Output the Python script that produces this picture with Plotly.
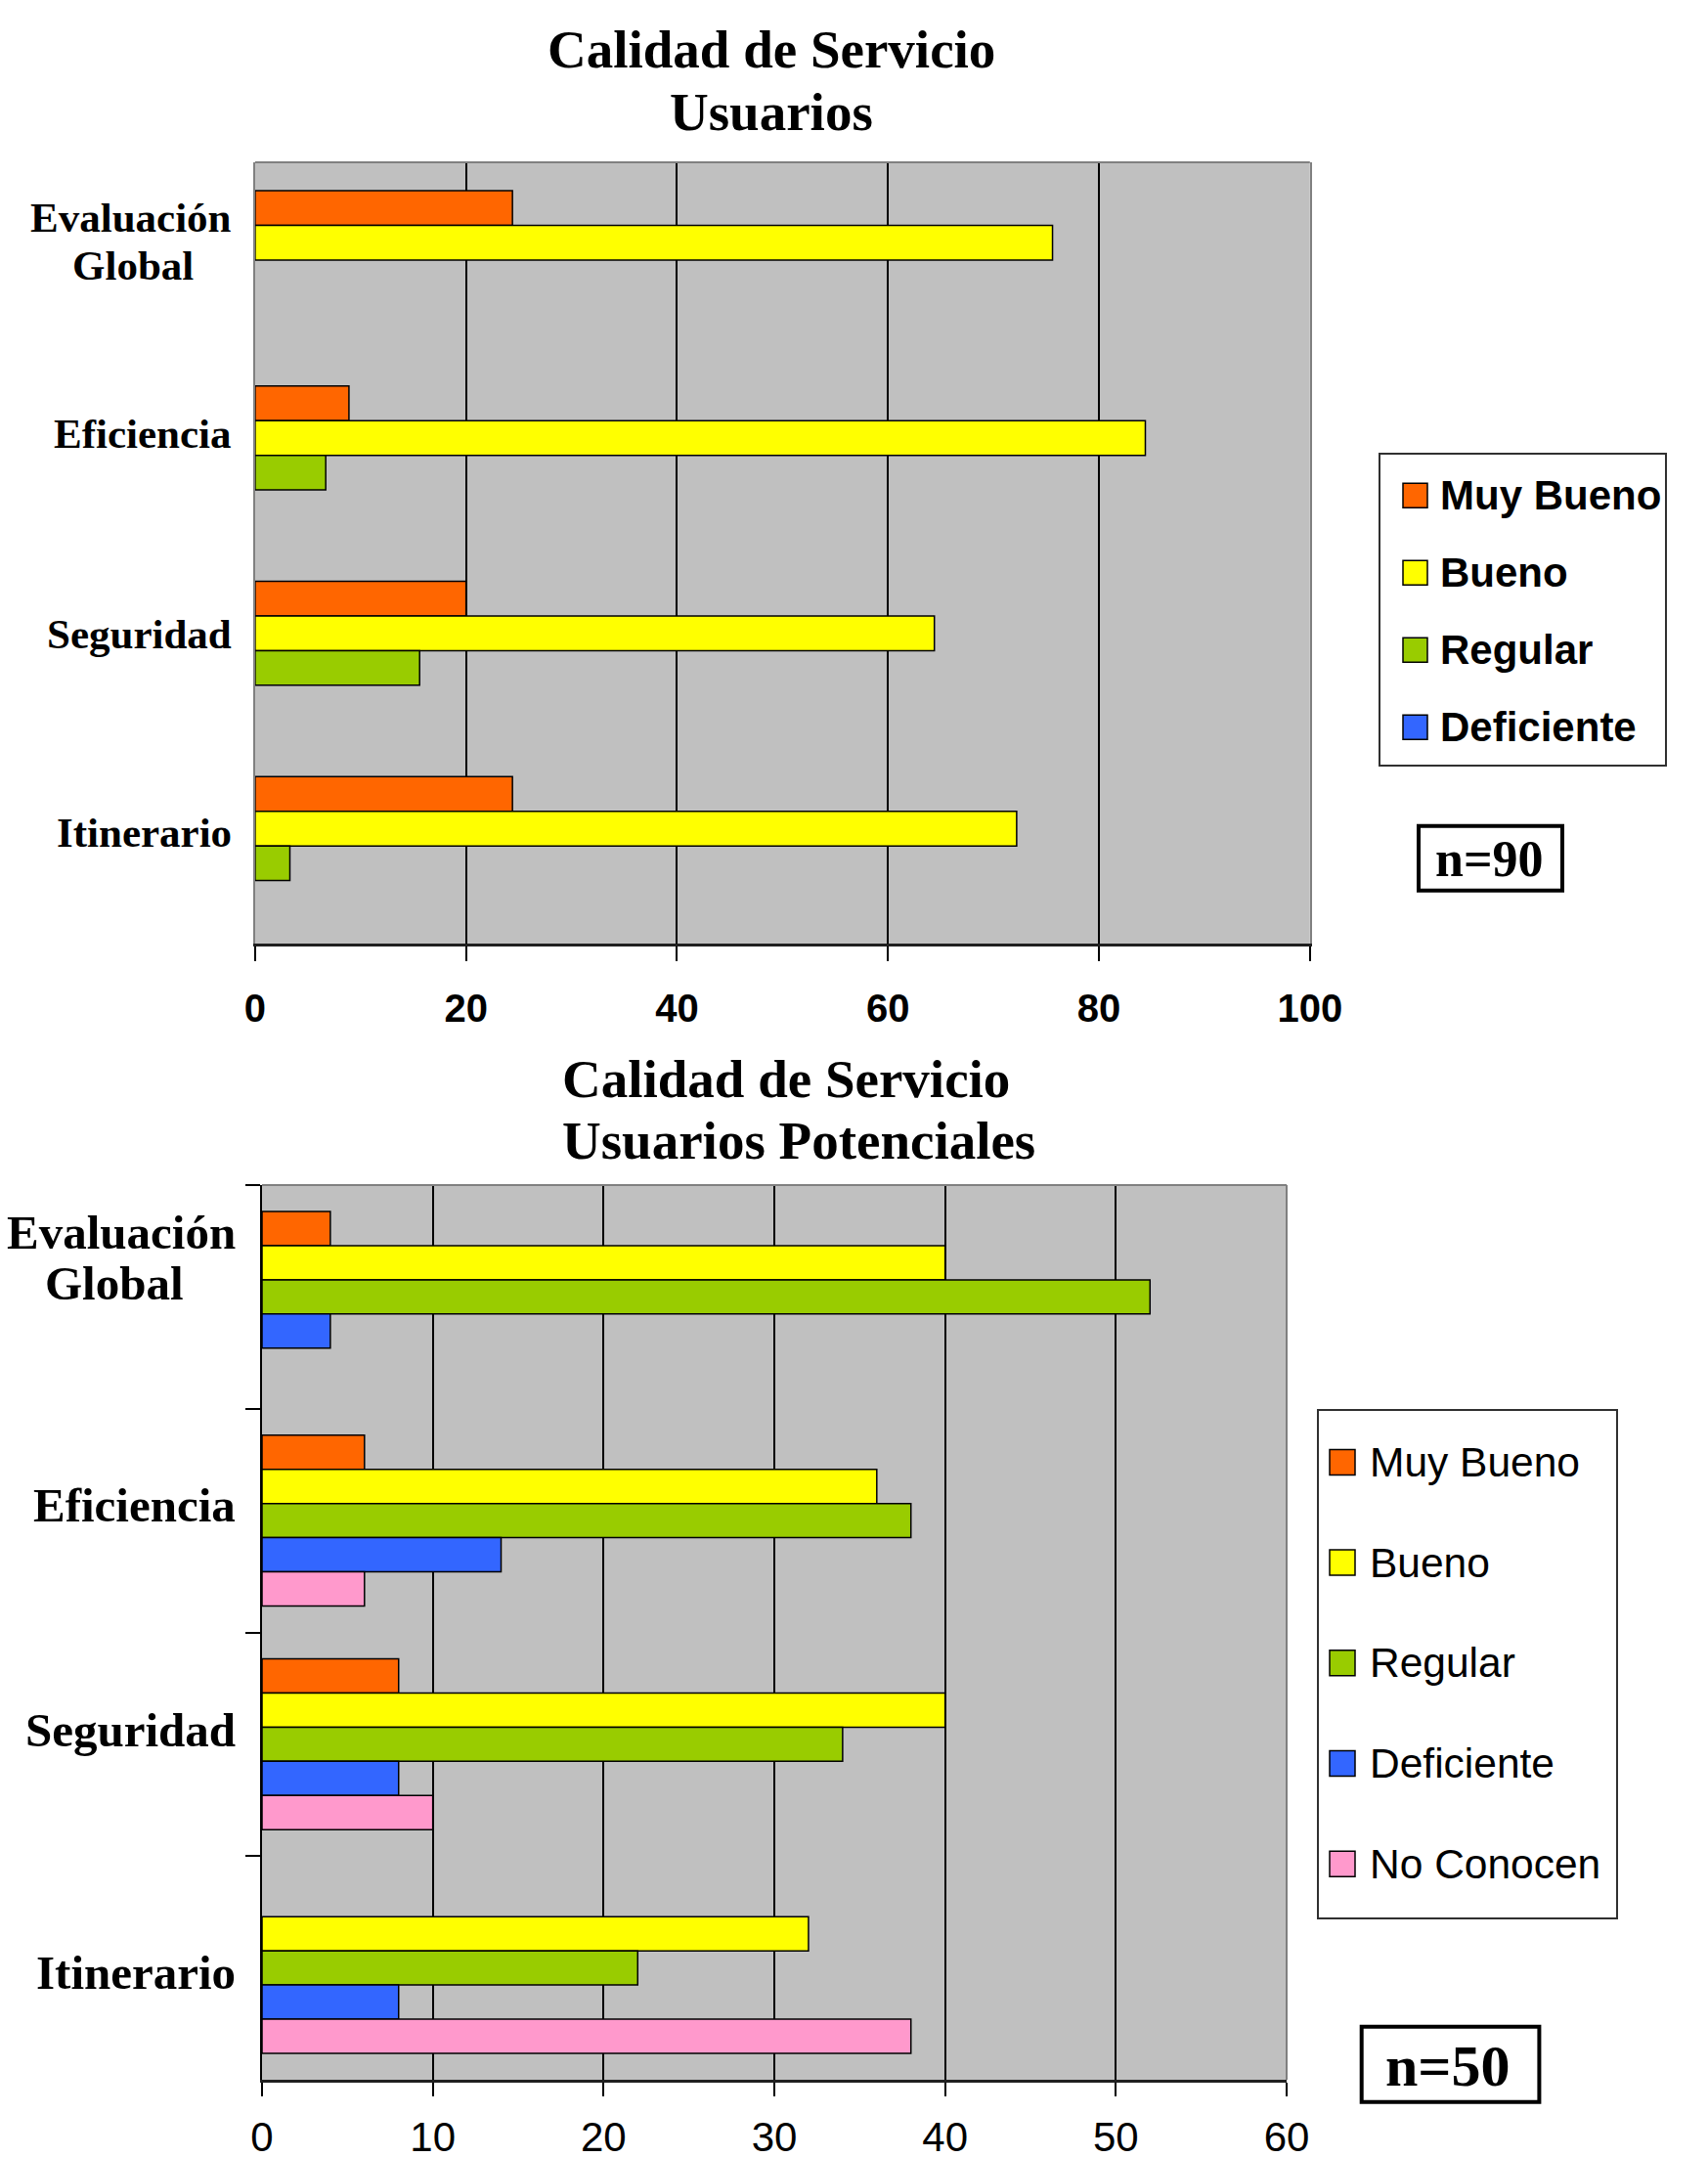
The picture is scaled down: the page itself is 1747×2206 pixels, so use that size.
import plotly.graph_objects as go

W, H = 1747, 2206

# ---------------- data ----------------
categories = ["Evaluación<br>Global", "Eficiencia", "Seguridad", "Itinerario"]

series_top = ["Muy Bueno", "Bueno", "Regular", "Deficiente"]
muy_bueno_top = [24.4, 8.9, 20.0, 24.4]
bueno_top = [75.6, 84.4, 64.4, 72.2]
regular_top = [0.0, 6.7, 15.6, 3.3]
deficiente_top = [0.0, 0.0, 0.0, 0.0]
values_top = [muy_bueno_top, bueno_top, regular_top, deficiente_top]

series_bot = ["Muy Bueno", "Bueno", "Regular", "Deficiente", "No Conocen"]
muy_bueno_bot = [4, 6, 8, 0]
bueno_bot = [40, 36, 40, 32]
regular_bot = [52, 38, 34, 22]
deficiente_bot = [4, 14, 8, 8]
no_conocen_bot = [0, 6, 10, 38]
values_bot = [muy_bueno_bot, bueno_bot, regular_bot, deficiente_bot, no_conocen_bot]

ticks_top = [0, 20, 40, 60, 80, 100]
ticks_bot = [0, 10, 20, 30, 40, 50, 60]

title_top = ["Calidad de Servicio", "Usuarios"]
title_bot = ["Calidad de Servicio", "Usuarios Potenciales"]
n_top = "n=90"
n_bot = "n=50"

# ---------------- styles ----------------
COLORS = {
    "Muy Bueno": "#FF6600",
    "Bueno": "#FFFF00",
    "Regular": "#99CC00",
    "Deficiente": "#3366FF",
    "No Conocen": "#FF99CC",
}
SERIF = "Liberation Serif, Times New Roman, serif"
SANS = "Liberation Sans, Arial, sans-serif"
PLOT_BG = "#C0C0C0"


def px(x):
    return x / W


def py(y):
    return 1 - y / H


fig = go.Figure()


def add_bars(series, values, xa, ya, bar_w):
    n = len(series)
    group = n * bar_w
    for i, (name, vals) in enumerate(zip(series, values)):
        fig.add_trace(go.Bar(
            y=categories, x=vals, orientation="h", name=name,
            width=bar_w, offset=-group / 2 + i * bar_w,
            marker=dict(color=COLORS[name],
                        line=dict(color="black", width=[1.5 if v else 0 for v in vals])),
            xaxis=xa, yaxis=ya, showlegend=False,
        ))


add_bars(series_top, values_top, "x", "y", 0.1777)
add_bars(series_bot, values_bot, "x2", "y2", 0.1527)

# plot areas in pixels
TOP = dict(x0=260.9, x1=1339.8, y0=166, y1=965)
BOT = dict(x0=268, x1=1316, y0=1212, y1=2127)

common_x = dict(
    ticks="outside", tickcolor="black", tickwidth=1.5,
    showgrid=True, gridcolor="black", gridwidth=1.5, zeroline=False,
    showline=True, linecolor="#202020", linewidth=2.5, fixedrange=True,
    automargin=False,
)

fig.update_layout(
    width=W, height=H, autosize=False,
    margin=dict(l=0, r=0, t=0, b=0, pad=0, autoexpand=False),
    paper_bgcolor="white", plot_bgcolor=PLOT_BG,
    barmode="overlay", showlegend=False,
    xaxis=dict(
        domain=[px(TOP["x0"]), px(TOP["x1"])], anchor="y",
        range=[0, 100], tickmode="array", tickvals=ticks_top, ticklen=15,
        tickfont=dict(family=SANS, size=40, color="black", weight="bold"),
        ticklabelstandoff=14,
        **common_x,
    ),
    yaxis=dict(
        domain=[py(TOP["y1"]), py(TOP["y0"])], anchor="x",
        type="category", categoryorder="array", categoryarray=categories,
        range=[3.5, -0.5], showticklabels=False, ticks="",
        showline=True, linecolor="#808080", linewidth=2, mirror=True,
        showgrid=False, zeroline=False, fixedrange=True, automargin=False,
    ),
    xaxis2=dict(
        domain=[px(BOT["x0"]), px(BOT["x1"])], anchor="y2",
        range=[0, 60], tickmode="array", tickvals=ticks_bot, ticklen=14,
        tickfont=dict(family=SANS, size=42, color="black"),
        ticklabelstandoff=6,
        **common_x,
    ),
    yaxis2=dict(
        domain=[py(BOT["y1"]), py(BOT["y0"])], anchor="x2",
        type="category", categoryorder="array", categoryarray=categories,
        range=[3.5, -0.5], showticklabels=False,
        ticks="outside", tickson="boundaries", ticklen=15,
        tickcolor="black", tickwidth=1.5,
        showline=True, linecolor="black", linewidth=1.5,
        showgrid=False, zeroline=False, fixedrange=True, automargin=False,
    ),
)

shapes = []
annotations = []

# top border of top plot, top/right border of bottom plot (gray)
shapes.append(dict(type="line", xref="x domain", yref="y domain", x0=0, x1=1, y0=1, y1=1,
                   line=dict(color="#808080", width=2)))
shapes.append(dict(type="line", xref="x2 domain", yref="y2 domain", x0=0, x1=1, y0=1, y1=1,
                   line=dict(color="#808080", width=2)))
shapes.append(dict(type="line", xref="x2 domain", yref="y2 domain", x0=1, x1=1, y0=0, y1=1,
                   line=dict(color="#808080", width=2)))

# titles
for line, yc in zip(title_top, [50.8, 114.7]):
    annotations.append(dict(text=line, xref="paper", yref="paper", x=px(789), y=py(yc),
                            xanchor="center", yanchor="middle", showarrow=False,
                            font=dict(family=SERIF, size=55, color="black", weight="bold")))
for line, yc in zip(title_bot, [1103.3, 1166.7]):
    annotations.append(dict(text=line, xref="paper", yref="paper", x=px(573), y=py(yc),
                            xanchor="left", yanchor="middle", showarrow=False,
                            font=dict(family=SERIF, size=55, color="black", weight="bold")))


# category labels: first line right-aligned at the axis side, extra lines centred
def add_labels(yref, right, sub_center, size, shifts):
    for cat, sh in zip(categories, shifts):
        lines = cat.split("<br>")
        for j, (line, s) in enumerate(zip(lines, sh)):
            if j == 0:
                xa, xv = "right", right
            else:
                xa, xv = "center", sub_center
            annotations.append(dict(text=line, xref="paper", yref=yref, x=px(xv), y=cat,
                                    yshift=s, xanchor=xa, yanchor="middle", showarrow=False,
                                    font=dict(family=SERIF, size=size, color="black", weight="bold")))


add_labels("y", 239, 135.5, 43, [[43, -6], [22], [17], [14]])
add_labels("y2", 243, 117, 49, [[66, 14], [16], [14], [-5]])


# legends
def add_legend(series, box, sym_x0, sym_size, y_first, step, text_x, size, weight):
    bx0, by0, bx1, by1 = box
    shapes.append(dict(type="rect", xref="paper", yref="paper",
                       x0=px(bx0), x1=px(bx1), y0=py(by1), y1=py(by0),
                       line=dict(color="#303030", width=2), fillcolor="white"))
    for i, name in enumerate(series):
        yc = y_first + i * step
        shapes.append(dict(type="rect", xref="paper", yref="paper",
                           x0=px(sym_x0), x1=px(sym_x0 + sym_size),
                           y0=py(yc + sym_size / 2), y1=py(yc - sym_size / 2),
                           line=dict(color="black", width=1.5), fillcolor=COLORS[name]))
        annotations.append(dict(text=name, xref="paper", yref="paper", x=px(text_x), y=py(yc),
                                xanchor="left", yanchor="middle", showarrow=False,
                                font=dict(family=SANS, size=size, color="black", weight=weight)))


add_legend(series_top, (1411, 464, 1704, 783), 1435, 25, 506.7, 79, 1471, 42, "bold")
add_legend(series_bot, (1348, 1442, 1654, 1962), 1360, 26, 1495.4, 102.7, 1399, 42.5, "normal")


# n boxes
def add_nbox(text, box, center, size):
    bx0, by0, bx1, by1 = box
    shapes.append(dict(type="rect", xref="paper", yref="paper",
                       x0=px(bx0), x1=px(bx1), y0=py(by1), y1=py(by0),
                       line=dict(color="black", width=4), fillcolor="white"))
    annotations.append(dict(text=text, xref="paper", yref="paper", x=px(center[0]), y=py(center[1]),
                            xanchor="center", yanchor="middle", showarrow=False,
                            font=dict(family=SERIF, size=size, color="black", weight="bold")))


add_nbox(n_top, (1451, 844.7, 1598, 910.7), (1523, 878), 52)
add_nbox(n_bot, (1392.7, 2072.7, 1574.4, 2149.7), (1481, 2113), 60)

fig.update_layout(shapes=shapes, annotations=annotations)

fig.write_html("out.html")
